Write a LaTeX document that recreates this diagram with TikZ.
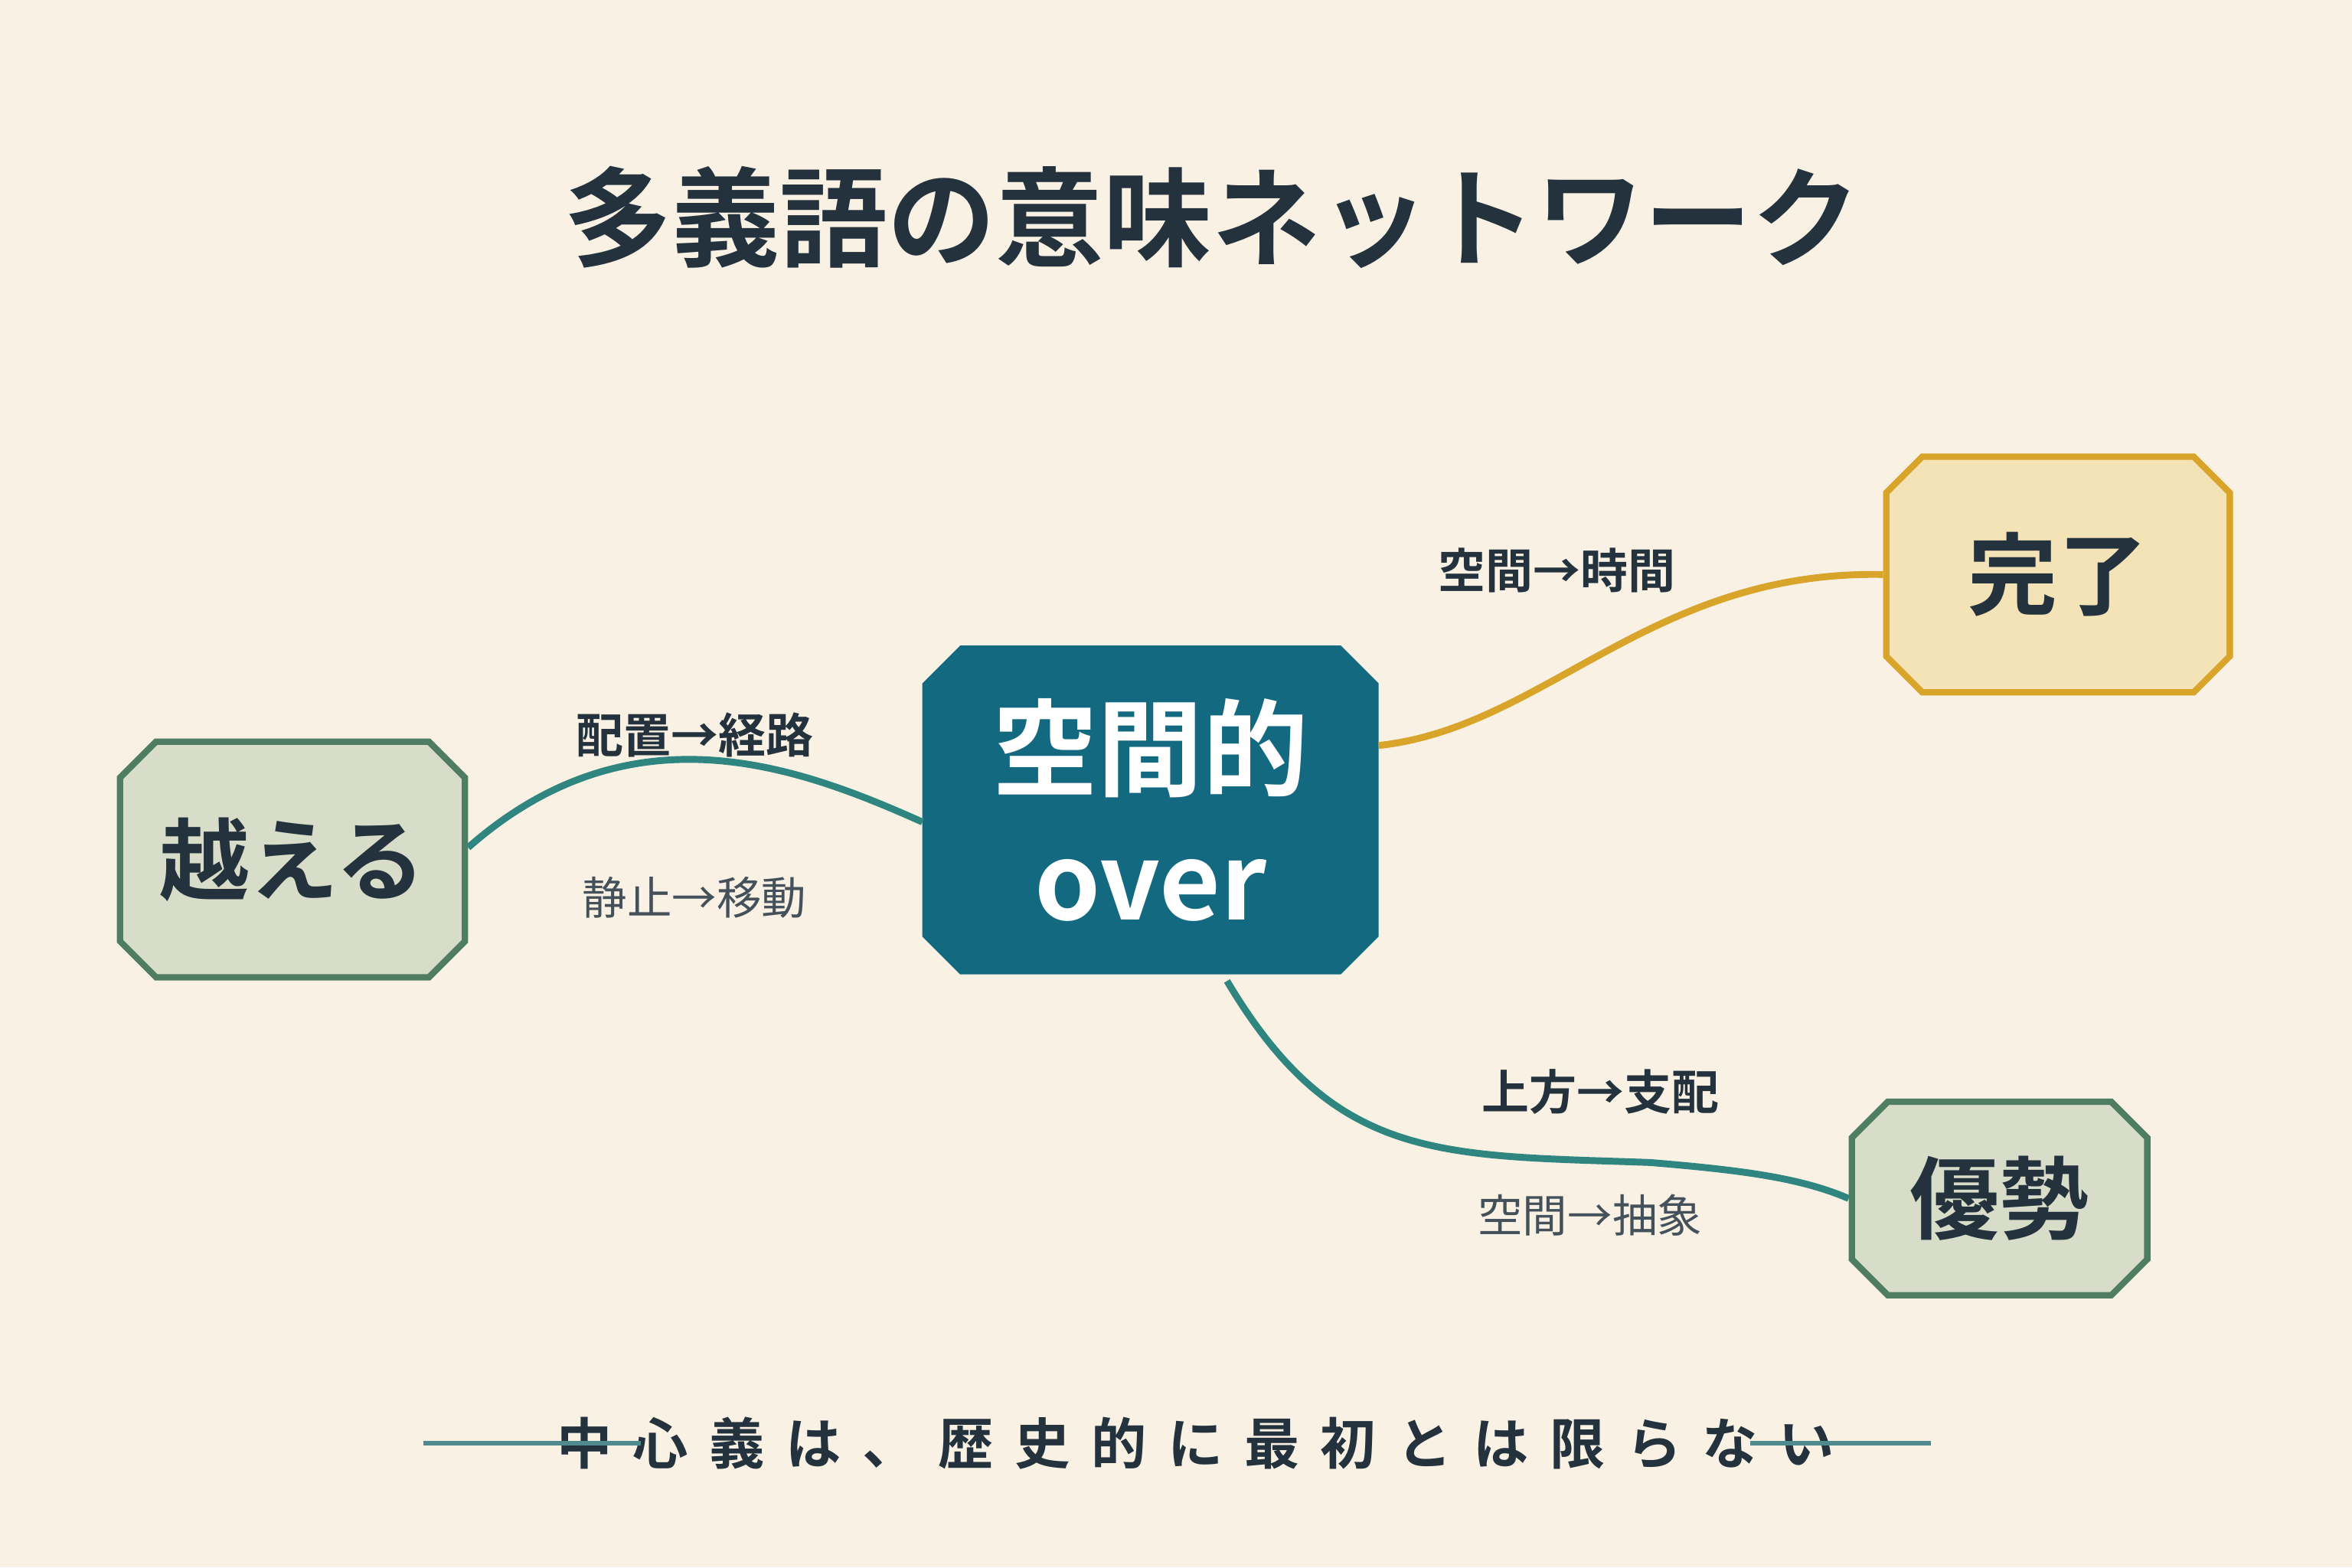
\documentclass[tikz,border=0pt]{standalone}
\usepackage{fontspec}
\setmainfont{Noto Sans CJK JP}
\newfontfamily\jpbold{Noto Sans CJK JP Bold}
\usetikzlibrary{shapes.misc}
\usetikzlibrary{positioning}
\definecolor{paper}{HTML}{F8F1E4}
\definecolor{ink}{HTML}{24323D}
\definecolor{hubfill}{HTML}{136A80}
\definecolor{sagefill}{HTML}{D8DDC9}
\definecolor{sageline}{HTML}{4E7D62}
\definecolor{goldfill}{HTML}{F5E3B8}
\definecolor{goldline}{HTML}{D8A42A}
\definecolor{tealline}{HTML}{2F8580}
\definecolor{ruleline}{HTML}{4F8A8E}
\begin{document}
\begin{tikzpicture}[
    sense/.style={chamfered rectangle, chamfered rectangle xsep=0.12cm, chamfered rectangle ysep=0.12cm,
      line width=1.2pt, inner sep=0pt, font=\jpbold\fontsize{17}{20}\selectfont, text=ink},
    link/.style={line width=1.3pt},
    lbl/.style={font=\jpbold\fontsize{9}{11}\selectfont, text=ink},
    sublbl/.style={font=\fontsize{8.5}{10}\selectfont, text=ink!85}]
    \fill[paper] (0,0) rectangle (15.68,10.45);
    \useasboundingbox (0,0) rectangle (15.68,10.45);

    \node[font=\jpbold\fontsize{20.5}{24}\selectfont, text=ink] (title) at (8.08,9.0) {多義語の意味ネットワーク};

    \node[sense, fill=hubfill, draw=hubfill, text=white, minimum width=3.0cm, minimum height=2.15cm,
      font=\jpbold\fontsize{20}{25}\selectfont, align=center] (over) at (7.67,5.05) {空間的\\over};
    \node[sense, fill=sagefill, draw=sageline, minimum width=2.3cm, minimum height=1.57cm] (koeru) at (1.95,4.72) {越える};
    \node[sense, fill=goldfill, draw=goldline, minimum width=2.29cm, minimum height=1.57cm] (kanryo) at (13.72,6.62) {完了};
    \node[sense, fill=sagefill, draw=sageline, minimum width=1.97cm, minimum height=1.29cm] (yusei) at (13.33,2.46) {優勢};

    % edges
    \draw[link, tealline] (koeru.east |- 0,4.8) .. controls (4.2,5.75) and (5.3,5.35) .. (over.west |- 0,4.97);
    \draw[link, goldline] (over.east |- 0,5.48) .. controls (10.3,5.6) and (11.0,6.65) .. (kanryo.west);
    \draw[link, tealline] (8.18,3.91) .. controls (8.9,2.7) and (9.6,2.75) .. (11.0,2.7)
      .. controls (11.6,2.65) and (12.0,2.6) .. (yusei.west);

    % labels
    \node[lbl] (l1) at (4.63,5.55) {配置→経路};
    \node[sublbl, below=0.55cm of l1] (l2) {静止→移動};
    \node[lbl] (l3) at (10.38,6.65) {空間→時間};
    \node[lbl] (l4) at (10.67,3.17) {上方→支配};
    \node[sublbl] (l5) at (10.6,2.35) {空間→抽象};

    % footer
    \node[font=\jpbold\fontsize{10.5}{12}\selectfont, text=ink] (note) at (7.97,0.83)
      {中\hspace{0.7ex}心\hspace{0.7ex}義\hspace{0.7ex}は\hspace{0.7ex}、\hspace{0.7ex}歴\hspace{0.7ex}史\hspace{0.7ex}的\hspace{0.7ex}に\hspace{0.7ex}最\hspace{0.7ex}初\hspace{0.7ex}と\hspace{0.7ex}は\hspace{0.7ex}限\hspace{0.7ex}ら\hspace{0.7ex}な\hspace{0.7ex}い};
    \coordinate (ra) at (2.82,0.83);
    \coordinate (rb) at (12.87,0.83);
    \draw[ruleline, line width=0.9pt] (ra) -- ++(1.45,0) (rb) -- ++(-1.2,0);
\end{tikzpicture}
\end{document}
